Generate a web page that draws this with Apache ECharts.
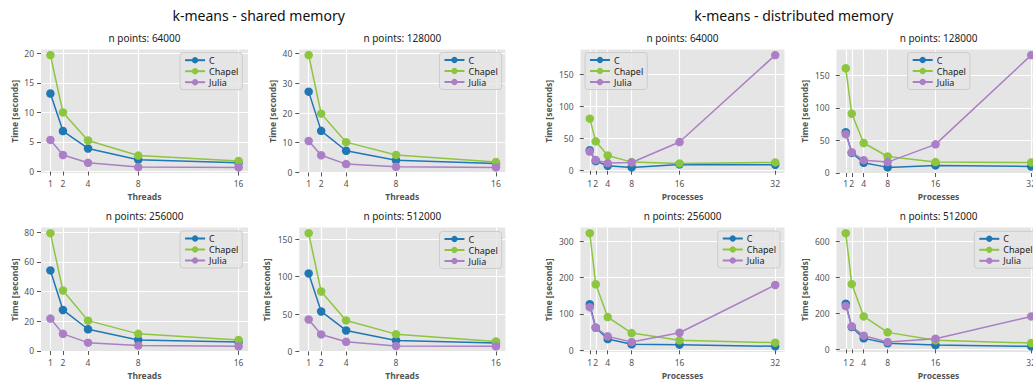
<!DOCTYPE html>
<html>
<head>
<meta charset="utf-8">
<script src="https://cdn.jsdelivr.net/npm/echarts@6/dist/echarts.min.js"></script>
<style>html,body{margin:0;padding:0;background:#fff}#chart{width:1033px;height:385px}</style>
</head>
<body>
<div id="chart"></div>
<script>
// ---- data ----
const threads = [1, 2, 4, 8, 16];
const processes = [1, 2, 4, 8, 16, 32];
const seriesNames = ['C', 'Chapel', 'Julia'];
const suptitles = ['k-means - shared memory', 'k-means - distributed memory'];
const panelTitles = ['n points: 64000', 'n points: 128000', 'n points: 256000', 'n points: 512000'];

// shared memory (seconds) vs threads
const shared64kC      = [13.2, 6.85, 3.9, 2.0, 1.5];
const shared64kChapel = [19.7, 10.0, 5.25, 2.7, 1.8];
const shared64kJulia  = [5.35, 2.8, 1.47, 0.75, 0.7];
const shared128kC      = [27.2, 14.0, 7.3, 4.1, 3.0];
const shared128kChapel = [39.5, 19.8, 10.2, 5.9, 3.5];
const shared128kJulia  = [10.6, 5.8, 2.8, 1.9, 1.7];
const shared256kC      = [54.2, 27.6, 14.6, 7.4, 6.1];
const shared256kChapel = [79.3, 40.7, 20.4, 11.5, 7.4];
const shared256kJulia  = [21.8, 11.5, 5.6, 3.6, 3.1];
const shared512kC      = [104.2, 53.4, 28.0, 14.7, 11.1];
const shared512kChapel = [158.0, 80.1, 41.4, 23.1, 13.4];
const shared512kJulia  = [42.7, 22.7, 12.9, 7.3, 6.8];

// distributed memory (seconds) vs processes
const dist64kC      = [31.7, 14.8, 7.7, 5.1, 9.7, 9.2];
const dist64kChapel = [80.9, 45.6, 23.6, 13.3, 11.3, 12.8];
const dist64kJulia  = [29.7, 16.4, 11.8, 12.8, 44.5, 179.7];
const dist128kC      = [62.6, 30.8, 15.7, 8.6, 11.6, 10.0];
const dist128kChapel = [160.6, 90.9, 46.0, 25.3, 16.7, 16.2];
const dist128kJulia  = [59.6, 31.8, 19.7, 16.7, 43.9, 180.8];
const dist256kC      = [126.7, 62.0, 31.0, 16.4, 15.5, 10.9];
const dist256kChapel = [321.9, 181.5, 91.2, 47.4, 27.4, 21.0];
const dist256kJulia  = [118.5, 62.0, 38.3, 22.8, 48.3, 179.6];
const dist512kC      = [253.7, 124.0, 61.0, 33.3, 24.0, 16.7];
const dist512kChapel = [646.0, 363.0, 183.0, 94.4, 50.0, 35.0];
const dist512kJulia  = [240.7, 127.8, 76.0, 40.7, 59.3, 183.0];

// y tick labels
const yTicksShared64k = [0, 5, 10, 15, 20];
const yTicksShared128k = [0, 10, 20, 30, 40];
const yTicksShared256k = [0, 20, 40, 60, 80];
const yTicksShared512k = [0, 50, 100, 150];
const yTicksDist64k = [0, 50, 100, 150];
const yTicksDist128k = [0, 50, 100, 150];
const yTicksDist256k = [0, 100, 200, 300];
const yTicksDist512k = [0, 200, 400, 600];

// ---- layout / style ----
const colors = ['#1f77b4', '#8cc63f', '#ab7fc5'];
const FONT = 'Noto Sans';
const W = 1033;
const panels = [
  {t: 0, x: threads, ys: [shared64kC, shared64kChapel, shared64kJulia], yt: yTicksShared64k, xn: 'Threads',
   g: {left: 41, top: 49.5, width: 207, height: 123.5}, lg: {right: W - 242.3, top: 52.7}},
  {t: 1, x: threads, ys: [shared128kC, shared128kChapel, shared128kJulia], yt: yTicksShared128k, xn: 'Threads',
   g: {left: 299.3, top: 49.5, width: 206, height: 123.5}, lg: {right: W - 501.7, top: 52.5}},
  {t: 2, x: threads, ys: [shared256kC, shared256kChapel, shared256kJulia], yt: yTicksShared256k, xn: 'Threads',
   g: {left: 41, top: 227.5, width: 207, height: 124.5}, lg: {right: W - 242.3, top: 231}},
  {t: 3, x: threads, ys: [shared512kC, shared512kChapel, shared512kJulia], yt: yTicksShared512k, xn: 'Threads',
   g: {left: 299.3, top: 227.5, width: 206, height: 124.5}, lg: {right: W - 501.7, top: 231.5}},
  {t: 0, x: processes, ys: [dist64kC, dist64kChapel, dist64kJulia], yt: yTicksDist64k, xn: 'Processes',
   g: {left: 580.5, top: 49.5, width: 204, height: 123.5}, lg: {left: 585, top: 52.5}},
  {t: 1, x: processes, ys: [dist128kC, dist128kChapel, dist128kJulia], yt: yTicksDist128k, xn: 'Processes',
   g: {left: 836.5, top: 49.5, width: 204, height: 123.5}, lg: {left: 907.7, top: 52.5}},
  {t: 2, x: processes, ys: [dist256kC, dist256kChapel, dist256kJulia], yt: yTicksDist256k, xn: 'Processes',
   g: {left: 580.5, top: 227.5, width: 204, height: 124.5}, lg: {right: W - 780, top: 231}},
  {t: 3, x: processes, ys: [dist512kC, dist512kChapel, dist512kJulia], yt: yTicksDist512k, xn: 'Processes',
   g: {left: 836.5, top: 227.5, width: 204, height: 124.5}, lg: {left: 974.3, top: 231.3}}
];

function pad(lo, hi) { const s = hi - lo; return [lo - 0.05 * s, hi + 0.05 * s]; }

const grid = [], xAxis = [], yAxis = [], series = [], legend = [], graphic = [];
panels.forEach((p, i) => {
  grid.push(Object.assign({show: true, backgroundColor: '#E5E5E5', borderWidth: 0,
    containLabel: false, outerBoundsMode: 'none'}, p.g));
  const [xmin, xmax] = pad(Math.min(...p.x), Math.max(...p.x));
  const all = [].concat(...p.ys);
  const [ymin, ymax] = pad(Math.min(...all), Math.max(...all));
  xAxis.push({
    type: 'value', gridIndex: i, min: xmin, max: xmax,
    name: p.xn, nameLocation: 'middle', nameGap: 19,
    nameTextStyle: {fontFamily: FONT, fontSize: 8.5, fontWeight: 'bold', color: '#555'},
    axisLine: {show: false},
    axisTick: {show: true, length: 4, customValues: p.x, lineStyle: {color: '#555', width: 1}},
    axisLabel: {customValues: p.x, fontFamily: FONT, fontSize: 8.5, color: '#555', margin: 6,
                showMinLabel: true, showMaxLabel: true, hideOverlap: false},
    splitLine: {show: true, lineStyle: {color: '#fff', width: 1.2}}
  });
  const digits = String(Math.max(...p.yt)).length;
  yAxis.push({
    type: 'value', gridIndex: i, min: ymin, max: ymax,
    name: 'Time [seconds]', nameLocation: 'middle', nameGap: digits > 2 ? 28 : 22.5,
    nameTextStyle: {fontFamily: FONT, fontSize: 8.5, fontWeight: 'bold', color: '#555'},
    axisLine: {show: false},
    axisTick: {show: true, length: 4, customValues: p.yt, lineStyle: {color: '#555', width: 1}},
    axisLabel: {customValues: p.yt, fontFamily: FONT, fontSize: 8.5, color: '#555', margin: 7,
                showMinLabel: true, showMaxLabel: true, hideOverlap: false},
    splitLine: {show: true, lineStyle: {color: '#fff', width: 1.2}}
  });
  p.ys.forEach((ys, k) => {
    series.push({
      name: seriesNames[k], type: 'line', xAxisIndex: i, yAxisIndex: i,
      data: p.x.map((xv, j) => [xv, ys[j]]),
      symbol: 'circle', symbolSize: 8.5, showSymbol: true,
      lineStyle: {width: 1.5, color: colors[k]},
      itemStyle: {color: colors[k]},
      animation: false, silent: true
    });
  });
  legend.push(Object.assign({
    data: seriesNames, orient: 'vertical', itemWidth: 20, itemHeight: 8, itemGap: 2,
    padding: [3, 4, 3, 4], backgroundColor: 'rgba(229,229,229,0.8)', borderColor: '#ccc',
    borderWidth: 1, borderRadius: 3, selectedMode: false,
    textStyle: {fontFamily: FONT, fontSize: 9, color: '#222', padding: [0, 0, 0, -1]}
  }, p.lg));
  const cx = p.g.left + p.g.width / 2;
  graphic.push({
    type: 'text', x: cx, y: p.g.top - 11.5,
    style: {text: panelTitles[p.t], fill: '#222', font: '10px "' + FONT + '"',
            align: 'center', verticalAlign: 'middle', textAlign: 'center', textVerticalAlign: 'middle'}
  });
});
graphic.push({type: 'text', x: 258.7, y: 15,
  style: {text: suptitles[0], fill: '#111', font: '14px "' + FONT + '"', align: 'center', verticalAlign: 'middle', textAlign: 'center', textVerticalAlign: 'middle'}});
graphic.push({type: 'text', x: 793.8, y: 15,
  style: {text: suptitles[1], fill: '#111', font: '14px "' + FONT + '"', align: 'center', verticalAlign: 'middle', textAlign: 'center', textVerticalAlign: 'middle'}});

const chart = echarts.init(document.getElementById('chart'), null, {renderer: 'svg', width: 1033, height: 385});
chart.setOption({animation: false, backgroundColor: '#fff', grid, xAxis, yAxis, series, legend, graphic});
</script>
</body>
</html>
